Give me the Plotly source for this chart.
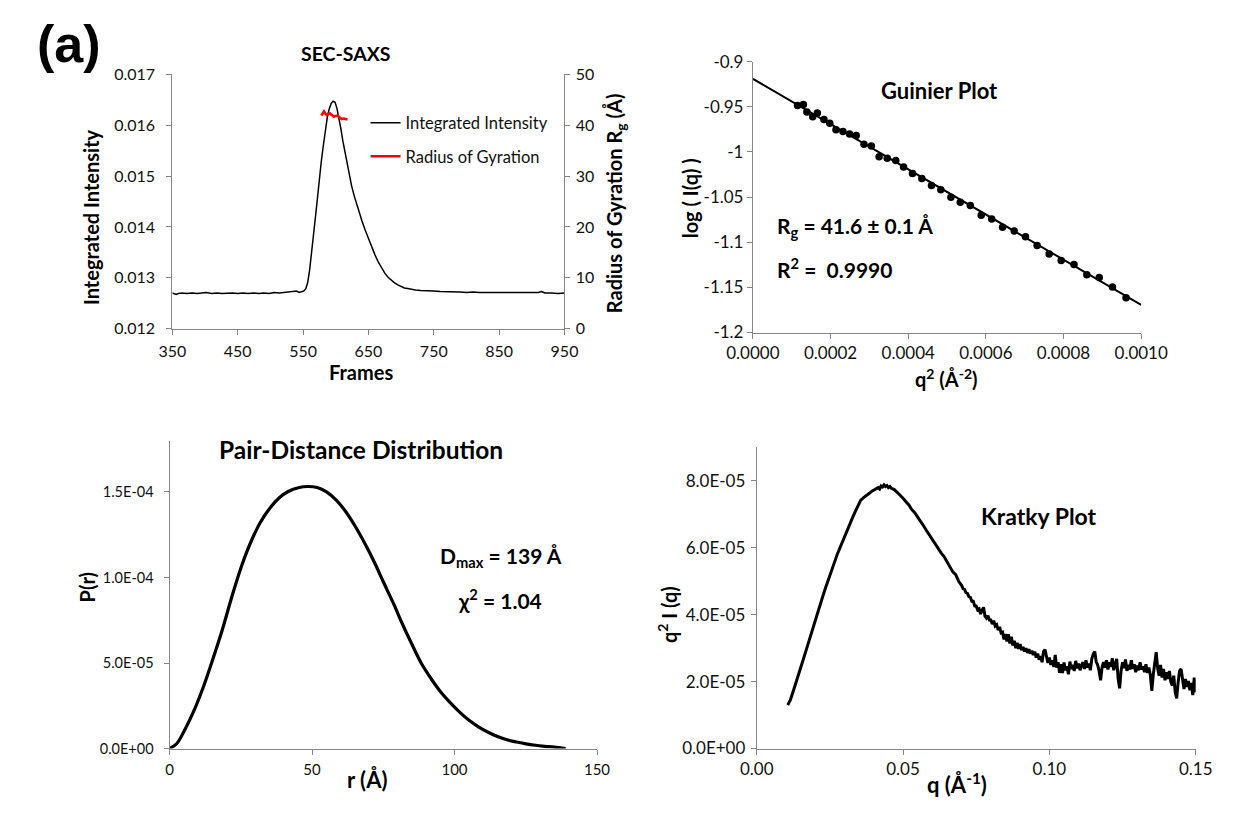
import plotly.graph_objects as go

W, H = 1238, 816

# ---------------- SEC-SAXS ----------------
sec_frames = [350, 353, 356, 359, 365, 372, 380, 388, 395, 402, 410, 418, 426, 434, 442, 450, 458, 466,
              474, 482, 490, 498, 506, 514, 522, 530, 536, 540, 544, 548, 551, 554, 557, 560, 563, 566,
              569, 572, 575, 578, 581, 584, 587, 590, 593, 596, 599, 602, 605, 608, 611, 614, 617, 620,
              624, 628, 632, 636, 640, 645, 650, 655, 660, 665, 670, 675, 680, 685, 690, 695, 700, 705,
              710, 716, 722, 730, 740, 750, 760, 770, 780, 790, 800, 810, 820, 830, 840, 850, 860, 870,
              880, 890, 900, 910, 915, 920, 930, 940, 950]
sec_intensity = [0.01270, 0.01268, 0.01267, 0.01269, 0.01270, 0.01269, 0.01270, 0.01269, 0.01270, 0.01271,
                 0.01269, 0.01270, 0.01269, 0.01270, 0.01270, 0.01269, 0.01270, 0.01269, 0.01270, 0.01269,
                 0.01270, 0.01269, 0.01271, 0.01270, 0.01271, 0.01272, 0.01273, 0.01274, 0.01271, 0.01272,
                 0.01274, 0.01278, 0.01290, 0.01315, 0.01345, 0.01385, 0.01420, 0.01460, 0.01495, 0.01530,
                 0.01560, 0.01590, 0.01615, 0.01632, 0.01643, 0.01647, 0.01645, 0.01632, 0.01615, 0.01592,
                 0.01568, 0.01548, 0.01528, 0.01505, 0.01482, 0.01462, 0.01444, 0.01428, 0.01412, 0.01394,
                 0.01377, 0.01360, 0.01345, 0.01331, 0.01319, 0.01309, 0.01301, 0.01295, 0.01290, 0.01286,
                 0.01283, 0.01280, 0.01279, 0.01277, 0.01276, 0.01275, 0.01275, 0.01274, 0.01273, 0.01273,
                 0.01272, 0.01272, 0.01271, 0.01272, 0.01271, 0.01271, 0.01271, 0.01270, 0.01271, 0.01270,
                 0.01271, 0.01270, 0.01271, 0.01271, 0.01273, 0.01270, 0.01270, 0.01269, 0.01270]
rg_frames = [578, 580, 582, 584, 586, 588, 591, 594, 597, 600, 603, 606, 609, 612, 615, 618]
rg_values = [41.9, 42.4, 42.7, 42.3, 42.0, 42.2, 42.3, 42.0, 41.7, 41.8, 41.9, 41.5, 41.2, 41.3, 41.2, 41.1]
sec_xticks = [350, 450, 550, 650, 750, 850, 950]
sec_yticks = [0.012, 0.013, 0.014, 0.015, 0.016, 0.017]
rg_ticks = [0, 10, 20, 30, 40, 50]

# ---------------- Guinier ----------------
guinier_q2 = [0.000115, 0.000130, 0.000139, 0.000154, 0.000166, 0.000183, 0.000198, 0.000214, 0.000232,
              0.000249, 0.000266, 0.000286, 0.000305, 0.000325, 0.000346, 0.000368, 0.000388, 0.000411,
              0.000435, 0.000460, 0.000484, 0.000510, 0.000534, 0.000560, 0.000588, 0.000615, 0.000643,
              0.000673, 0.000702, 0.000732, 0.000763, 0.000794, 0.000827, 0.000860, 0.000892, 0.000926,
              0.000961]
guinier_logI = [-0.9485, -0.9474, -0.9557, -0.9611, -0.9568, -0.9640, -0.9683, -0.9755, -0.9773,
                -0.9801, -0.9819, -0.9916, -0.9934, -1.0053, -1.0071, -1.0096, -1.0168, -1.0240,
                -1.0294, -1.0372, -1.0419, -1.0502, -1.0556, -1.0592, -1.0700, -1.0743, -1.0833,
                -1.0876, -1.0940, -1.1037, -1.1131, -1.1203, -1.1246, -1.1361, -1.1390, -1.1497,
                -1.1616]
fit_q2 = [0.0, 0.0010]
fit_logI = [-0.919, -1.1695]
guinier_xticks = [0.0, 0.0002, 0.0004, 0.0006, 0.0008, 0.0010]
guinier_yticks = [-1.2, -1.15, -1.1, -1.05, -1.0, -0.95, -0.9]
guinier_yticktext = ["-1.2", "-1.15", "-1.1", "-1.05", "-1", "-0.95", "-0.9"]

# ---------------- P(r) ----------------
pr_r = [0, 2.5, 5.2, 8.5, 11.9, 15.2, 18.5, 21.8, 25.2, 28.5, 31.8, 35.2, 38.5, 41.8, 45.2, 48.5, 51.8,
        55.1, 58.5, 61.8, 65.1, 68.5, 71.8, 75.1, 78.5, 81.8, 85.1, 88.4, 91.8, 95.1, 98.4, 101.8, 105.1,
        108.4, 111.8, 115.1, 118.4, 121.8, 125.1, 128.4, 131.7, 135.0, 139.0]
pr_p = [0, 0.28e-5, 1.04e-5, 2.18e-5, 3.61e-5, 5.22e-5, 6.93e-5, 8.83e-5, 10.63e-5, 12.06e-5, 13.20e-5,
        14.05e-5, 14.66e-5, 15.04e-5, 15.25e-5, 15.32e-5, 15.26e-5, 15.00e-5, 14.52e-5, 13.86e-5, 13.01e-5,
        12.00e-5, 10.92e-5, 9.72e-5, 8.51e-5, 7.25e-5, 6.08e-5, 4.97e-5, 4.08e-5, 3.32e-5, 2.70e-5,
        2.13e-5, 1.65e-5, 1.27e-5, 0.95e-5, 0.70e-5, 0.51e-5, 0.38e-5, 0.27e-5, 0.19e-5, 0.13e-5,
        0.08e-5, 0]
pr_xticks = [0, 50, 100, 150]
pr_yticks = [0, 5e-5, 1e-4, 1.5e-4]
pr_yticktext = ["0.0E+00", "5.0E-05", "1.0E-04", "1.5E-04"]

# ---------------- Kratky ----------------
kratky_q = [0.0106, 0.0115, 0.0125, 0.0135, 0.0145, 0.0155, 0.0165, 0.0175, 0.0185, 0.0195, 0.0205,
            0.0215, 0.0225, 0.0235, 0.0245, 0.0255, 0.0265, 0.0275, 0.0285, 0.0295, 0.0305, 0.0315,
            0.0325, 0.0335, 0.0345, 0.0355, 0.0365, 0.0375, 0.0385, 0.0395, 0.0405, 0.0415, 0.0420,
            0.0425, 0.0430, 0.0435, 0.0440, 0.0445, 0.0450, 0.0455, 0.0460, 0.0470, 0.0480, 0.0490,
            0.0500, 0.0510, 0.0520, 0.0530, 0.0540, 0.0550, 0.0560, 0.0570, 0.0580, 0.0590, 0.0600,
            0.0610, 0.0620, 0.0630, 0.0640, 0.0650, 0.0660, 0.0670, 0.0680, 0.0690, 0.0700,
            0.0705, 0.0710, 0.0715, 0.0720, 0.0725, 0.0730, 0.0735, 0.0740, 0.0745, 0.0750,
            0.0755, 0.0760, 0.0765, 0.0770, 0.0775, 0.0780, 0.0785, 0.0790, 0.0795, 0.0800,
            0.0805, 0.0810, 0.0815, 0.0820, 0.0825, 0.0830, 0.0835, 0.0840, 0.0845, 0.0850,
            0.0855, 0.0860, 0.0865, 0.0870, 0.0875, 0.0880, 0.0885, 0.0890, 0.0895, 0.0900,
            0.0905, 0.0910, 0.0915, 0.0920, 0.0925, 0.0930, 0.0935, 0.0940, 0.0945, 0.0950,
            0.0955, 0.0960, 0.0965, 0.0970, 0.0975, 0.0980, 0.0985, 0.0990, 0.0995, 0.1000,
            0.1005, 0.1010, 0.1015, 0.1020, 0.1025, 0.1030, 0.1035, 0.1040, 0.1045, 0.1050,
            0.1055, 0.1060, 0.1065, 0.1070, 0.1075, 0.1080, 0.1085, 0.1090, 0.1095, 0.1100,
            0.1105, 0.1110, 0.1115, 0.1120, 0.1125, 0.1130, 0.1135, 0.1140, 0.1145, 0.1150,
            0.1155, 0.1160, 0.1165, 0.1170, 0.1175, 0.1180, 0.1185, 0.1190, 0.1195, 0.1200,
            0.1205, 0.1210, 0.1215, 0.1220, 0.1225, 0.1230, 0.1235, 0.1240, 0.1245, 0.1250,
            0.1255, 0.1260, 0.1265, 0.1270, 0.1275, 0.1280, 0.1285, 0.1290, 0.1295, 0.1300,
            0.1305, 0.1310, 0.1315, 0.1320, 0.1325, 0.1330, 0.1335, 0.1340, 0.1345, 0.1350,
            0.1355, 0.1360, 0.1365, 0.1370, 0.1375, 0.1380, 0.1385, 0.1390, 0.1395, 0.1400,
            0.1405, 0.1410, 0.1415, 0.1420, 0.1425, 0.1430, 0.1435, 0.1440, 0.1445, 0.1450,
            0.1455, 0.1460, 0.1465, 0.1470, 0.1475, 0.1480, 0.1485, 0.1490, 0.1495, 0.1500]
kratky_v_e5 = [1.30, 1.45, 1.72, 1.98, 2.25, 2.55, 2.83, 3.12, 3.42, 3.72, 4.00,
               4.27, 4.53, 4.80, 5.07, 5.30, 5.55, 5.80, 6.02, 6.25, 6.47, 6.65,
               6.85, 7.05, 7.25, 7.42, 7.50, 7.58, 7.63, 7.70, 7.74, 7.80, 7.76,
               7.85, 7.82, 7.88, 7.83, 7.86, 7.80, 7.83, 7.78, 7.74, 7.66, 7.58,
               7.48, 7.38, 7.28, 7.14, 7.05, 6.92, 6.80, 6.66, 6.52, 6.38, 6.28,
               6.12, 6.00, 5.85, 5.74, 5.58, 5.46, 5.28, 5.20, 5.00, 4.88,
               4.78, 4.76, 4.66, 4.64, 4.54, 4.52, 4.40, 4.40, 4.26, 4.26,
               4.14, 4.17, 4.02, 4.14, 4.22, 3.96, 3.90, 3.97, 3.84, 3.84,
               3.72, 3.82, 3.66, 3.70, 3.54, 3.64, 3.46, 3.48, 3.26, 3.42,
               3.20, 3.42, 3.14, 3.34, 3.08, 3.22, 3.00, 3.16, 2.98, 3.12,
               2.94, 3.04, 2.90, 3.00, 2.86, 2.97, 2.84, 2.92, 2.80, 2.90,
               2.72, 2.84, 2.66, 2.76, 2.58, 2.90, 2.96, 2.76, 2.56, 2.72,
               2.50, 2.64, 2.44, 2.80, 2.42, 2.58, 2.26, 2.52, 2.26, 2.57,
               2.34, 2.46, 2.22, 2.60, 2.38, 2.50, 2.32, 2.62, 2.40, 2.54,
               2.34, 2.48, 2.58, 2.38, 2.64, 2.42, 2.54, 2.34, 2.68, 2.82,
               2.90, 2.60, 2.50, 2.32, 2.04, 2.42, 2.58, 2.42, 2.64, 2.36,
               2.58, 2.44, 2.70, 2.34, 2.54, 2.68, 2.08, 1.80, 2.32, 2.58,
               2.40, 2.66, 2.32, 2.50, 2.36, 2.64, 2.38, 2.52, 2.28, 2.48,
               2.34, 2.58, 2.36, 2.46, 2.28, 2.52, 2.26, 2.42, 2.20, 1.72,
               2.20, 2.52, 2.88, 2.40, 2.18, 2.50, 2.12, 2.38, 2.04, 2.28,
               2.08, 2.32, 2.00, 1.88, 2.18, 1.68, 1.50, 1.98, 2.32, 2.38,
               2.02, 1.78, 2.08, 1.84, 2.02, 1.74, 1.96, 1.60, 2.12, 1.68]
kratky_xticks = [0.0, 0.05, 0.10, 0.15]
kratky_yticks = [0, 2e-5, 4e-5, 6e-5, 8e-5]
kratky_yticktext = ["0.0E+00", "2.0E-05", "4.0E-05", "6.0E-05", "8.0E-05"]

kratky_v = [v * 1e-5 for v in kratky_v_e5]

FONT = "Lato"
AXC = "#868686"


def px_dom_x(a, b):
    return [a / W, b / W]


def px_dom_y(top, bottom):
    return [1 - bottom / H, 1 - top / H]


def axis(dom, tickfs, standoff=0, **kw):
    d = dict(domain=dom, showline=True, linecolor=AXC, linewidth=1, ticks="outside", ticklen=5,
             tickcolor=AXC, showgrid=False, zeroline=False, ticklabelstandoff=standoff,
             tickfont=dict(family=FONT, size=tickfs, color="#111111"))
    d.update(kw)
    return d


fig = go.Figure()

# SEC
fig.add_trace(go.Scatter(x=sec_frames, y=sec_intensity, mode="lines", name="Integrated Intensity",
                         line=dict(color="black", width=1.5), xaxis="x", yaxis="y", legendgroup="a"))
fig.add_trace(go.Scatter(x=rg_frames, y=rg_values, mode="lines", name="Radius of Gyration",
                         line=dict(color="#ff0000", width=2.6), xaxis="x", yaxis="y5", legendgroup="b"))
# Guinier
fig.add_trace(go.Scatter(x=fit_q2, y=fit_logI, mode="lines", line=dict(color="black", width=2),
                         xaxis="x2", yaxis="y2", showlegend=False))
fig.add_trace(go.Scatter(x=guinier_q2, y=guinier_logI, mode="markers",
                         marker=dict(color="black", size=7.5), xaxis="x2", yaxis="y2", showlegend=False))
# P(r)
fig.add_trace(go.Scatter(x=pr_r, y=pr_p, mode="lines", line=dict(color="black", width=3.2, shape="spline"),
                         xaxis="x3", yaxis="y3", showlegend=False))
# Kratky
fig.add_trace(go.Scatter(x=kratky_q, y=kratky_v, mode="lines", line=dict(color="black", width=3),
                         xaxis="x4", yaxis="y4", showlegend=False))

sec_x = px_dom_x(152, 562)
sec_y = px_dom_y(65, 326)
gu_x = px_dom_x(759, 1165)
gu_y = px_dom_y(52, 330)
pr_x = px_dom_x(149, 596)
pr_y = px_dom_y(441, 757)
kr_x = px_dom_x(763, 1222)
kr_y = px_dom_y(448, 757)

fig.update_layout(
    width=W, height=H, margin=dict(l=0, r=0, t=0, b=0),
    paper_bgcolor="white", plot_bgcolor="white",
    font=dict(family=FONT, color="black"),
    xaxis=axis(sec_x, 16, 3, range=[350, 950], tickmode="array", tickvals=sec_xticks, anchor="y"),
    yaxis=axis(sec_y, 16, 8, range=[0.012, 0.017], tickmode="array", tickvals=sec_yticks,
               tickformat=".3f", anchor="x"),
    yaxis5=axis(sec_y, 16, 2, range=[0, 50], tickmode="array", tickvals=rg_ticks, side="right",
                overlaying="y", anchor="x"),
    xaxis2=axis(gu_x, 17, 0, range=[0, 0.001], tickmode="array", tickvals=guinier_xticks,
                tickformat=".4f", anchor="y2"),
    yaxis2=axis(gu_y, 17, 0, range=[-1.2, -0.9], tickmode="array", tickvals=guinier_yticks,
                ticktext=guinier_yticktext, anchor="x2"),
    xaxis3=axis(pr_x, 15, 2, range=[0, 150], tickmode="array", tickvals=pr_xticks, anchor="y3"),
    yaxis3=axis(pr_y, 14.5, 7, range=[0, 1.8e-4], tickmode="array", tickvals=pr_yticks,
                ticktext=pr_yticktext, anchor="x3"),
    xaxis4=axis(kr_x, 17, 0, range=[0, 0.15], tickmode="array", tickvals=kratky_xticks,
                tickformat=".2f", anchor="y4"),
    yaxis4=axis(kr_y, 17, 2, range=[0, 9e-5], tickmode="array", tickvals=kratky_yticks,
                ticktext=kratky_yticktext, anchor="x4"),
    legend=dict(x=354 / W, y=1 - 97 / H, xanchor="left", yanchor="top", bgcolor="rgba(0,0,0,0)",
                font=dict(family=FONT, size=16.5, color="#111111"), traceorder="grouped",
                tracegroupgap=9, itemwidth=30),
    showlegend=True,
)


def ann(text, xr, yr, x, y, size, angle=0, xanchor="center"):
    fig.add_annotation(text=text, xref=xr, yref=yr, x=x, y=y, showarrow=False, textangle=angle,
                       xanchor=xanchor, yanchor="middle",
                       font=dict(family=FONT, size=size, color="black"))


# panel label
fig.add_annotation(text="<b>(a)</b>", xref="paper", yref="paper", x=8 / W, y=1 - 34 / H,
                   xanchor="left", yanchor="middle", showarrow=False,
                   font=dict(family="Liberation Sans", size=52, color="black"))

# SEC texts
ann("<b>SEC-SAXS</b>", "x domain", "y domain", 0.444, 1.080, 19.5)
ann("<b>Integrated Intensity</b>", "x domain", "y domain", -0.206, 0.437, 20, -90)
ann("<b>Radius of Gyration R<sub>g</sub> (Å)</b>", "x domain", "y domain", 1.13, 0.495, 20, -90)
ann("<b>Frames</b>", "x domain", "y domain", 0.481, -0.172, 20)

# Guinier texts
ann("<b>Guinier Plot</b>", "x2 domain", "y2 domain", 0.48, 0.895, 22)
ann("<b>R<sub>g</sub> = 41.6 ± 0.1 Å</b>", "x2 domain", "y2 domain", 0.058, 0.389, 21, xanchor="left")
ann("<b>R<sup>2</sup> =  0.9990</b>", "x2 domain", "y2 domain", 0.058, 0.240, 21, xanchor="left")
ann("<b>log ( I(q) )</b>", "x2 domain", "y2 domain", -0.161, 0.497, 20, -90)
ann("<b>q<sup>2</sup> (Å<sup>-2</sup>)</b>", "x2 domain", "y2 domain", 0.499, -0.168, 20)

# P(r) texts
ann("<b>Pair-Distance Distribution</b>", "x3 domain", "y3 domain", 0.448, 0.970, 24.5)
ann("<b>D<sub>max</sub> = 139 Å</b>", "x3 domain", "y3 domain", 0.776, 0.622, 21)
ann("<b>χ<sup>2</sup> = 1.04</b>", "x3 domain", "y3 domain", 0.772, 0.485, 21)
ann("<b>P(r)</b>", "x3 domain", "y3 domain", -0.194, 0.522, 20, -90)
ann("<b>r (Å)</b>", "x3 domain", "y3 domain", 0.461, -0.100, 22)

# Kratky texts
ann("<b>Kratky Plot</b>", "x4 domain", "y4 domain", 0.643, 0.773, 23)
ann("<b>q<sup>2</sup> I (q)</b>", "x4 domain", "y4 domain", -0.204, 0.444, 20, -90)
ann("<b>q (Å<sup>-1</sup>)</b>", "x4 domain", "y4 domain", 0.457, -0.117, 22)

fig.write_html("out.html", config={"displayModeBar": False},
               post_script="document.body.style.margin='0px';")
